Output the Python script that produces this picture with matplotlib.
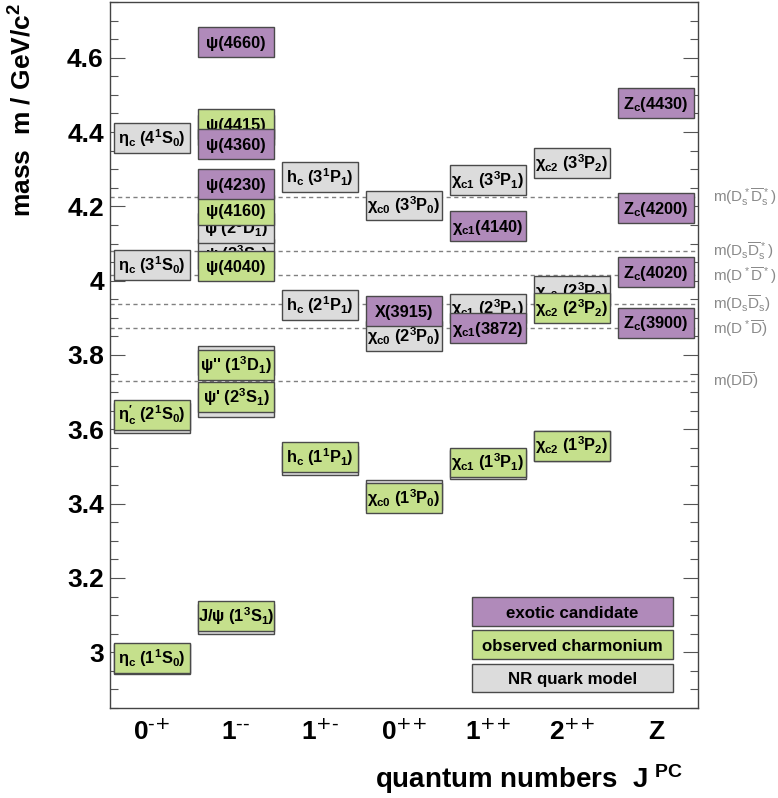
import matplotlib
matplotlib.use("Agg")
import matplotlib.pyplot as plt
import matplotlib.transforms as mtransforms
from matplotlib.patches import Rectangle
from matplotlib.ticker import MultipleLocator, FormatStrFormatter

plt.rcParams['font.family'] = ['Liberation Sans', 'DejaVu Sans']
plt.rcParams['mathtext.default'] = 'regular'

# J^PC columns
columns = ["0$^{\\text{-+}}$", "1$^{\\text{--}}$", "1$^{\\text{+-}}$", "0$^{\\text{++}}$",
           "1$^{\\text{++}}$", "2$^{\\text{++}}$", "Z"]

# NR potential model predictions (GeV)
model_col = [0, 0, 0, 0, 1, 1, 1, 1, 1, 1, 2, 2, 2, 3, 3, 3, 4, 4, 4, 5, 5, 5]
model_mass = [2.982, 3.630, 4.043, 4.384,
              3.090, 3.672, 3.785, 4.072, 4.142, 4.406,
              3.516, 3.934, 4.279,
              3.424, 3.852, 4.202,
              3.505, 3.925, 4.271,
              3.556, 3.972, 4.317]
model_label = ["η$_c$ (1$^1$S$_0$)", "η$_c$ (2$^1$S$_0$)", "η$_c$ (3$^1$S$_0$)", "η$_c$ (4$^1$S$_0$)",
               "J/ψ (1$^3$S$_1$)", "ψ' (2$^3$S$_1$)", "ψ'' (1$^3$D$_1$)", "ψ (3$^3$S$_1$)",
               "ψ (2$^3$D$_1$)", "ψ (4$^3$S$_1$)",
               "h$_c$ (1$^1$P$_1$)", "h$_c$ (2$^1$P$_1$)", "h$_c$ (3$^1$P$_1$)",
               "χ$_{c0}$ (1$^3$P$_0$)", "χ$_{c0}$ (2$^3$P$_0$)", "χ$_{c0}$ (3$^3$P$_0$)",
               "χ$_{c1}$ (1$^3$P$_1$)", "χ$_{c1}$ (2$^3$P$_1$)", "χ$_{c1}$ (3$^3$P$_1$)",
               "χ$_{c2}$ (1$^3$P$_2$)", "χ$_{c2}$ (2$^3$P$_2$)", "χ$_{c2}$ (3$^3$P$_2$)"]

# observed charmonium states
obs_col = [0, 0, 1, 1, 1, 1, 1, 1, 2, 3, 4, 5, 5]
obs_mass = [2.984, 3.639, 3.097, 3.686, 3.773, 4.039, 4.191, 4.421,
            3.525, 3.415, 3.511, 3.556, 3.927]
obs_label = ["η$_c$ (1$^1$S$_0$)", "η$^{\\prime}_c$ (2$^1$S$_0$)",
             "J/ψ (1$^3$S$_1$)", "ψ' (2$^3$S$_1$)", "ψ'' (1$^3$D$_1$)",
             "ψ(4040)", "ψ(4160)", "ψ(4415)",
             "h$_c$ (1$^1$P$_1$)", "χ$_{c0}$ (1$^3$P$_0$)", "χ$_{c1}$ (1$^3$P$_1$)",
             "χ$_{c2}$ (1$^3$P$_2$)", "χ$_{c2}$ (2$^3$P$_2$)"]

# exotic candidates
exo_col = [1, 1, 1, 3, 4, 4, 6, 6, 6, 6]
exo_mass = [4.260, 4.367, 4.643, 3.919, 3.872, 4.147, 3.887, 4.023, 4.196, 4.478]
exo_label = ["ψ(4230)", "ψ(4360)", "ψ(4660)", "X(3915)", "χ$_{c1}$(3872)", "χ$_{c1}$(4140)",
             "Z$_c$(3900)", "Z$_c$(4020)", "Z$_c$(4200)", "Z$_c$(4430)"]

# open-charm thresholds
thresh_mass = [4.224, 4.080, 4.014, 3.937, 3.872, 3.730]
thresh_label = ["m(D$_s^*\\overline{D}_s^*$)", "m(D$_s\\overline{D}_s^*$)", "m(D$^*\\overline{D}^*$)",
                "m(D$_s\\overline{D}_s$)", "m(D$^*\\overline{D}$)", "m(D$\\overline{D}$)"]

legend_label = ["exotic candidate", "observed charmonium", "NR quark model"]

c_exo = "#b08aba"
c_obs = "#c5e08c"
c_mod = "#dcdcdc"
edge = "#4a4a4a"

fig = plt.figure(figsize=(7.78, 7.98), dpi=100)
ax = fig.add_axes([0.1414, 0.1128, 0.7558, 0.8847])
ax.set_xlim(-0.5, 6.5)
ax.set_ylim(2.85, 4.75)

for sp in ax.spines.values():
    sp.set_color("#444444")
    sp.set_linewidth(1.0)

ax.yaxis.set_major_locator(MultipleLocator(0.2))
ax.yaxis.set_minor_locator(MultipleLocator(0.05))
ax.yaxis.set_major_formatter(FormatStrFormatter("%g"))
ax.tick_params(axis="y", which="both", direction="in", left=True, right=True,
               color="#555555", width=0.8, labelsize=19, pad=4.5)
ax.tick_params(axis="y", which="major", length=11)
ax.tick_params(axis="y", which="minor", length=5.5)
for t in ax.get_yticklabels():
    t.set_fontweight("bold")

ax.set_xticks(range(len(columns)))
ax.set_xticklabels(columns, fontsize=19, fontweight="bold")
ax.tick_params(axis="x", length=0, pad=8.5)

# thresholds
for m, lab in zip(thresh_mass, thresh_label):
    ax.axhline(m, color="#808080", lw=1.0, ls=(0, (3, 2.5)), zorder=1)
    ax.text(1.026, m, lab, transform=ax.get_yaxis_transform(), ha="left", va="center",
            fontsize=11, color="#8a8a8a", clip_on=False)

base = mtransforms.offset_copy(ax.transData, fig=fig, y=-4.2, units="points")
z = [2]


def draw_box(col, m, label, color):
    ax.add_patch(Rectangle((col - 0.45, m - 0.04), 0.9, 0.08, facecolor=color,
                           edgecolor=edge, lw=1.0, zorder=z[0]))
    ax.text(col, m, label, transform=base, ha="center", va="baseline",
            fontsize=11.8, fontweight="bold", zorder=z[0] + 0.5)
    z[0] += 1


order = sorted(range(len(model_mass)), key=lambda i: model_mass[i])
for i in order:
    draw_box(model_col[i], model_mass[i], model_label[i], c_mod)
for c, m, lab in zip(obs_col, obs_mass, obs_label):
    draw_box(c, m, lab, c_obs)
for c, m, lab in zip(exo_col, exo_mass, exo_label):
    draw_box(c, m, lab, c_exo)

# legend boxes
leg_base = mtransforms.offset_copy(ax.transAxes, fig=fig, y=-4.3, units="points")
for k, (lab, col) in enumerate(zip(legend_label, [c_exo, c_obs, c_mod])):
    y0 = 0.116 - k * 0.047
    ax.add_patch(Rectangle((0.616, y0), 0.341, 0.041, transform=ax.transAxes,
                           facecolor=col, edgecolor=edge, lw=1.0, zorder=100))
    ax.text(0.7865, y0 + 0.0205, lab, transform=leg_base, ha="center", va="baseline",
            fontsize=12.2, fontweight="bold", zorder=101)

fig.text(0.0283, 0.996, "mass  m / GeV/c$^2$", rotation=90, ha="center", va="top",
         fontsize=19, fontweight="bold")
fig.text(0.878, 0.0125, "quantum numbers  J$^{\\ PC}$", ha="right", va="baseline",
         fontsize=20, fontweight="bold")

fig.savefig("out.png", dpi=100)
